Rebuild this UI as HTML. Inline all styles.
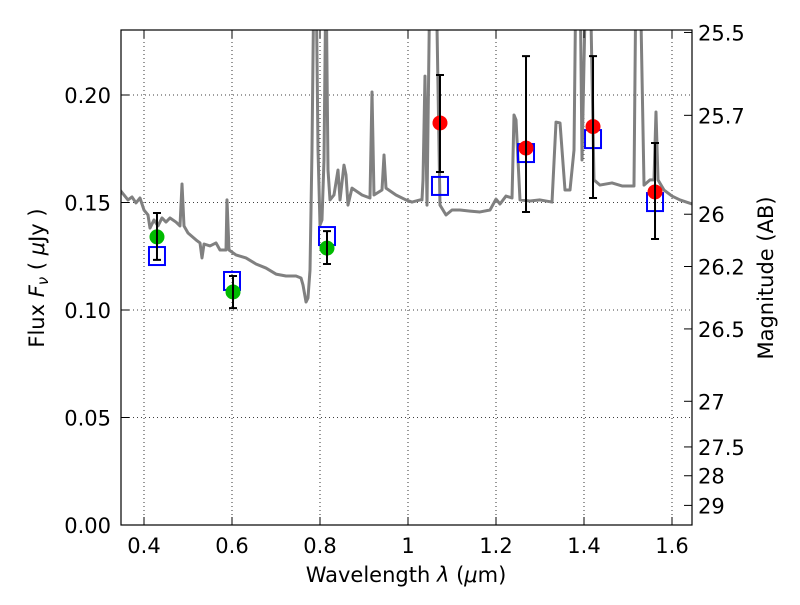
<!DOCTYPE html>
<html><head><meta charset="utf-8"><style>
body{margin:0;background:#fff;}
svg text{font-family:"DejaVu Sans","Liberation Sans",sans-serif;font-size:21px;fill:#000;}
</style></head><body>
<svg id="chart" width="800" height="600">
<defs><clipPath id="pc"><rect x="121" y="30" width="571" height="495"/></clipPath></defs>
<g id="grid"></g>
<g id="spec" clip-path="url(#pc)"></g>
<g id="marks"></g>
<rect x="121" y="30" width="571" height="495" fill="none" stroke="#000" stroke-width="1.2"/>
<g id="axes"></g>
<text x="406" y="582" text-anchor="middle">Wavelength  <tspan font-style="italic">λ</tspan> (<tspan font-style="italic">μ</tspan>m)</text>
<text transform="translate(44,278) rotate(-90)" text-anchor="middle">Flux  <tspan font-style="italic">F</tspan><tspan font-style="italic" font-size="15" dy="4">ν</tspan><tspan dy="-4">  (  </tspan><tspan font-style="italic">μ</tspan>Jy )</text>
<text transform="translate(773,278) rotate(-90)" text-anchor="middle">Magnitude (AB)</text>
</svg>
<script>
const specLam=[0.3455,0.3545,0.3636,0.3727,0.3818,0.3909,0.4,0.4091,0.4136,0.4227,0.4318,0.4409,0.45,0.4591,0.4727,0.4818,0.4864,0.4909,0.5,0.5182,0.5273,0.5318,0.5364,0.55,0.5636,0.5727,0.5864,0.5886,0.5932,0.6091,0.6318,0.6545,0.6773,0.7,0.7227,0.7455,0.7568,0.7614,0.7682,0.7727,0.7773,0.7818,0.7864,0.7909,0.7955,0.8,0.8045,0.8091,0.8136,0.8182,0.8227,0.8318,0.8409,0.8455,0.8545,0.8591,0.8636,0.8727,0.8955,0.9136,0.9182,0.9227,0.9409,0.9455,0.95,0.9727,0.9955,1.0091,1.0273,1.0318,1.0341,1.0386,1.0432,1.05,1.0636,1.0727,1.0864,1.1,1.1182,1.1409,1.1636,1.1864,1.2,1.2091,1.2227,1.2364,1.2409,1.2455,1.2545,1.2773,1.3,1.3273,1.3364,1.3455,1.3568,1.3682,1.3773,1.3818,1.3909,1.3955,1.4045,1.4136,1.4227,1.4364,1.4636,1.4864,1.5136,1.5182,1.5273,1.5364,1.55,1.5591,1.5636,1.5682,1.5818,1.6,1.6182,1.6455];
const specFlux=[0.1558,0.1535,0.1512,0.1526,0.1498,0.1521,0.1465,0.1442,0.1381,0.1419,0.1391,0.1428,0.1409,0.1428,0.1409,0.1391,0.1586,0.1391,0.1358,0.1326,0.1312,0.1242,0.1307,0.1298,0.1312,0.1279,0.1279,0.1512,0.1279,0.1256,0.1242,0.1214,0.1195,0.1167,0.1158,0.1158,0.1149,0.1116,0.1037,0.1056,0.1186,0.1744,0.26,0.26,0.1744,0.1395,0.1419,0.1698,0.26,0.1651,0.1512,0.1535,0.1651,0.1512,0.1674,0.1628,0.1488,0.1567,0.1535,0.1521,0.2014,0.1535,0.1558,0.1721,0.1567,0.1535,0.1512,0.1502,0.1512,0.1512,0.1605,0.2088,0.1488,0.26,0.26,0.1488,0.1442,0.1465,0.1465,0.146,0.1456,0.1465,0.1516,0.1493,0.153,0.1521,0.1907,0.1884,0.1512,0.1507,0.1512,0.1502,0.1874,0.187,0.1558,0.1558,0.1744,0.26,0.26,0.1698,0.26,0.26,0.1605,0.1581,0.1591,0.1577,0.1577,0.26,0.26,0.1581,0.1605,0.1605,0.1921,0.1605,0.1558,0.153,0.1512,0.1493];
const redLam=[1.0727,1.2682,1.4205,1.5614];
const redFlux=[0.187,0.1753,0.1853,0.1549];
const redHi=[0.2093,0.2181,0.2181,0.1777];
const redLo=[0.1642,0.1456,0.1521,0.133];
const greenLam=[0.4295,0.6023,0.8159];
const greenFlux=[0.134,0.1084,0.1288];
const greenHi=[0.1451,0.1158,0.1367];
const greenLo=[0.1233,0.1009,0.1214];
const modelLam=[0.4295,0.6,0.8159,1.0727,1.2682,1.4205,1.5614];
const modelFlux=[0.1251,0.1135,0.1344,0.1577,0.173,0.1795,0.1502];
const xTicks=[0.4,0.6,0.8,1.0,1.2,1.4,1.6];
const xTickLabels=["0.4","0.6","0.8","1","1.2","1.4","1.6"];
const yTicks=[0,0.05,0.10,0.15,0.20];
const yTickLabels=["0.00","0.05","0.10","0.15","0.20"];
const magTicks=[25.5,25.7,26,26.2,26.5,27,27.5,28,29];
const magLabels=["25.5","25.7","26","26.2","26.5","27","27.5","28","29"];

const X=l=>122+(l-0.35)*440;
const Y=f=>525-f*2150;
const NS="http://www.w3.org/2000/svg";
function mk(tag,attrs,parent){const e=document.createElementNS(NS,tag);for(const k in attrs)e.setAttribute(k,attrs[k]);parent.appendChild(e);return e;}
const grid=document.getElementById('grid'),axes=document.getElementById('axes'),spec=document.getElementById('spec'),marks=document.getElementById('marks');

xTicks.forEach((t,i)=>{
  const g=mk('line',{x1:X(t),x2:X(t),y1:30,y2:525,stroke:'#000','stroke-width':0.8,'stroke-dasharray':'1,3'},grid);
  
  
  mk('line',{x1:X(t),x2:X(t),y1:525,y2:517,stroke:'#000'},axes);
  mk('line',{x1:X(t),x2:X(t),y1:30,y2:38,stroke:'#000'},axes);
  const tx=mk('text',{x:X(t),y:553,'text-anchor':'middle'},axes);tx.textContent=xTickLabels[i];
  
  
});
yTicks.forEach((t,i)=>{
  const g=mk('line',{x1:121,x2:692,y1:Y(t),y2:Y(t),stroke:'#000','stroke-width':0.8,'stroke-dasharray':'1,3'},grid);
  
  
  mk('line',{x1:121,x2:129,y1:Y(t),y2:Y(t),stroke:'#000'},axes);
  const tx=mk('text',{x:111,y:Y(t)+8,'text-anchor':'end'},axes);tx.textContent=yTickLabels[i];
  
  
});
magTicks.forEach((m,i)=>{
  const f=Math.pow(10,(23.9-m)/2.5);const y=Y(f);
  mk('line',{x1:684,x2:692,y1:y,y2:y,stroke:'#000'},axes);
  const tx=mk('text',{x:698,y:y+8,'text-anchor':'start'},axes);tx.textContent=magLabels[i];
  
  
});
const p=mk('polyline',{points:specLam.map((l,i)=>X(l)+','+Y(specFlux[i])).join(' '),fill:'none',stroke:'#808080','stroke-width':3,'stroke-linejoin':'round'},spec);



modelLam.forEach((l,i)=>{
  const r=mk('rect',{x:X(l)-8,y:Y(modelFlux[i])-9,width:16,height:18,fill:'none',stroke:'#0000ff','stroke-width':2},marks);
  
  
});
function pts(lam,flux,hi,lo,color,name){
  lam.forEach((l,i)=>{
    const x=X(l);
    const c=mk('circle',{cx:x,cy:Y(flux[i]),r:7.5,fill:color},marks);
    
    
    const e=mk('path',{d:`M${x},${Y(hi[i])}V${Y(lo[i])}M${x-4},${Y(hi[i])}H${x+4}M${x-4},${Y(lo[i])}H${x+4}`,stroke:'#000','stroke-width':2,fill:'none'},marks);
    
    
  });
}
pts(greenLam,greenFlux,greenHi,greenLo,'#00bb00','observed-flux-green');
pts(redLam,redFlux,redHi,redLo,'#ff0000','observed-flux-red');
</script>
</body></html>
